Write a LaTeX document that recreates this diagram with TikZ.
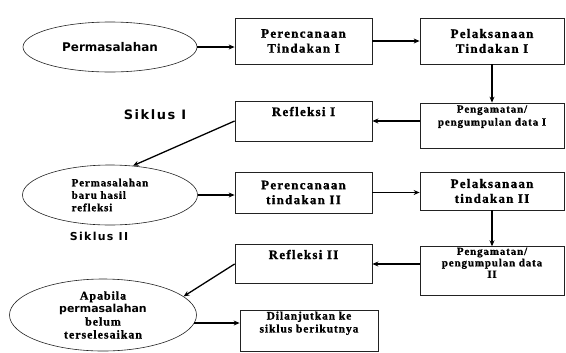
\documentclass[tikz,border=0pt]{standalone}
\usepackage{fontspec}
\usetikzlibrary{positioning,arrows.meta,shapes.geometric}
\setmainfont{Liberation Serif}
\newfontfamily\serifb[LetterSpace=10,FakeBold=1.2]{Liberation Serif Bold}
\newfontfamily\serifk[LetterSpace=8,FakeBold=1]{Liberation Serif Bold}
\newfontfamily\komik{DejaVu Sans}
\newfontfamily\komiks[LetterSpace=12]{DejaVu Sans}
\newcommand{\katakomik}[1]{{\komik\bfseries\fontsize{11}{13}\selectfont #1}}
\definecolor{garis}{HTML}{222222}

\begin{document}
\begin{tikzpicture}[x=1bp,y=-1bp,
        kotak/.style={draw=garis,line width=0.8pt,align=center,inner sep=1pt,
          font=\serifb\fontsize{13}{15}\selectfont},
        kecil/.style={kotak,font=\serifk\fontsize{11}{13}\selectfont},
        atas/.style={text height=10bp,text depth=20bp},
        elips/.style={draw=garis,ellipse,line width=0.6pt,inner sep=0pt,align=center},
        siklus/.style={font=\komiks\bfseries\fontsize{13}{14}\selectfont},
        p/.style={-{Stealth[length=6bp,width=5bp]},line width=1.3pt},
        pv/.style={p,line width=2pt}]
        \useasboundingbox (0,0) rectangle (566,352);
        % siklus I
        \node[elips,minimum width=174bp,minimum height=50bp,
          font=\komik\bfseries\fontsize{12}{14}\selectfont] (e1) at (110,47) {Permasalahan};
        \node[kotak,minimum width=137bp,minimum height=46bp] (p1) at (303.5,41) {Perencanaan\\Tindakan I};
        \node[kotak,minimum width=144bp,minimum height=46bp] (l1) at (492,41) {Pelaksanaan\\Tindakan I};
        \node[kecil,minimum width=144bp,minimum height=45bp] (g1) at (492,125.5) {Pengamatan/\\pengumpulan data I\\[7bp]};
        \node[kotak,atas,minimum width=137bp,minimum height=40bp] (r1) at (303.5,121) {Refleksi I};
        \node[siklus] (s1) at (155,115) {Siklus I};
        \draw[p] (e1.east) -- (e1.east -| p1.west);
        \draw[p] (p1.east) -- (l1.west);
        \draw[pv] (l1.south) -- (g1.north);
        \draw[p] (g1.west |- r1.east) -- (r1.east);
        % siklus II
        \node[elips,minimum width=175bp,minimum height=60bp,align=left,
          font=\serifk\fontsize{11}{12.5}\selectfont] (e2) at (110,195) {Permasalahan\\baru hasil\\refleksi};
        \node[siklus,font=\komiks\bfseries\fontsize{11}{12}\selectfont,below=3bp of e2,xshift=-11bp] (s2) {Siklus II};
        \node[kotak,minimum width=137bp,minimum height=41bp] (p2) at (303.5,192.5) {Perencanaan\\tindakan II};
        \node[kotak,minimum width=144bp,minimum height=38bp] (l2) at (492,191) {Pelaksanaan\\tindakan II};
        \node[kecil,minimum width=144bp,minimum height=44bp,
          font=\serifk\fontsize{11}{11.5}\selectfont] (g2) at (492,271) {Pengamatan/\\pengumpulan data\\II\\[5bp]};
        \node[kotak,atas,minimum width=137bp,minimum height=39bp] (r2) at (303.5,264) {Refleksi II};
        \draw[p] (r1.west) -- (e2.52);
        \draw[p] (e2.east) -- (e2.east -| p2.west);
        \draw[p] (p2.east) -- (p2.east -| l2.west);
        \draw[pv] (l2.south -| g2.north) -- (g2.north);
        \draw[p] (g2.west |- r2.east) -- (r2.east);
        % akhir
        \node[elips,minimum width=187bp,minimum height=72bp,
          font=\serifk\fontsize{12}{13}\selectfont] (e3) at (103,315)
          {Apabila\\\katakomik{permasalahan}\\belum\\terselesaikan};
        \node[kecil,minimum width=138bp,minimum height=41bp,
          font=\serifk\fontsize{11.5}{13}\selectfont] (d) at (309,330.5) {Dilanjutkan ke\\siklus berikutnya\\[4bp]};
        \draw[p] (r2.west) -- (e3.13);
        \draw[p] (e3.-5) -- (e3.-5 -| d.west);
      \end{tikzpicture}
\end{document}
